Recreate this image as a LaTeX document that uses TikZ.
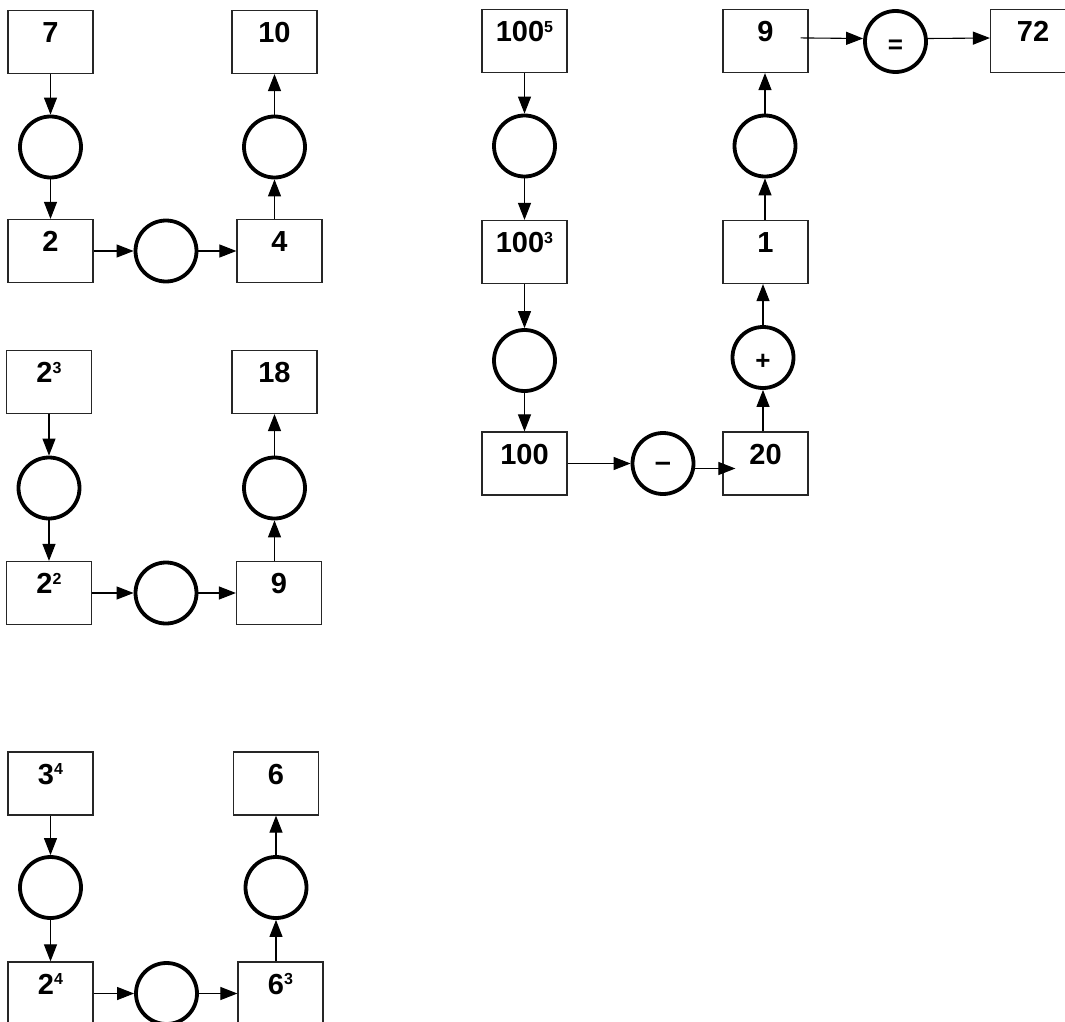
\documentclass[tikz,border=0pt]{standalone}
\usepackage{fontspec}
\setmainfont{Liberation Sans}
\usetikzlibrary{arrows.meta,calc}

% number with a small raised exponent
\newcommand{\pw}[2]{#1\raisebox{9.3pt}{\fontsize{16}{16}\selectfont #2}}

\begin{document}
\begin{tikzpicture}[x=1pt,y=-1pt,
  numbox/.style={draw=black!85, line width=1.2pt, rectangle,
    minimum width=85pt, minimum height=63pt, inner sep=0pt,
    text height=32pt, text depth=31pt,
    font=\fontsize{29}{30}\selectfont\bfseries},
  opcirc/.style={draw, line width=3.8pt, circle, minimum size=61pt,
    inner sep=0pt, text height=24pt, text depth=0pt,
    font=\fontsize{26}{26}\selectfont\bfseries},
  dashop/.style={font=\fontsize{29}{30}\selectfont\bfseries,
    text height=15.6pt, text depth=0pt},
  flow/.style={-{Triangle[length=17pt,width=13pt]}, line width=1.1pt},
]
\fill[white] (0,0) rectangle (1065,1022);
\useasboundingbox (0,0) rectangle (1065,1022);
\clip (0,0) rectangle (1065,1022);

% chain 1
\node[numbox] (a1) at (50.5,42) {7};
\node[opcirc] (a2) at (50.5,147) {};
\node[numbox] (a3) at (50.5,251) {2};
\node[opcirc] (a4) at (166,251) {};
\node[numbox] (a5) at (279.5,251) {4};
\node[opcirc] (a6) at (274.5,147) {};
\node[numbox] (a7) at (274.5,42) {10};
\draw[flow] (a1) -- (a2);
\draw[flow] (a2) -- (a3);
\draw[flow] (a3) -- (a4);
\draw[flow] (a4) -- (a5);
\draw[flow] (a5.north -| a6) -- (a6);
\draw[flow] (a6) -- (a7);

% chain 2
\node[numbox] (b1) at (49,382) {\pw{2}{3}};
\node[opcirc] (b2) at (49,488) {};
\node[numbox] (b3) at (49,593) {\pw{2}{2}};
\node[opcirc] (b4) at (166,593) {};
\node[numbox] (b5) at (279,593) {9};
\node[opcirc] (b6) at (274.5,488) {};
\node[numbox] (b7) at (274.5,382) {18};
\draw[flow] (b1) -- (b2);
\draw[flow] (b2) -- (b3);
\draw[flow] (b3) -- (b4);
\draw[flow] (b4) -- (b5);
\draw[flow] (b5.north -| b6) -- (b6);
\draw[flow] (b6) -- (b7);

% chain 3
\node[numbox] (c1) at (50.5,783.5) {\pw{3}{4}};
\node[opcirc] (c2) at (50.5,887.5) {};
\node[numbox] (c3) at (50.5,993.5) {\pw{2}{4}};
\node[opcirc] (c4) at (166.5,993.5) {};
\node[numbox] (c5) at (280.5,993.5) {\pw{6}{3}};
\node[opcirc] (c6) at (276,887.5) {};
\node[numbox] (c7) at (276,783.5) {6};
\draw[flow] (c1) -- (c2);
\draw[flow] (c2) -- (c3);
\draw[flow] (c3) -- (c4);
\draw[flow] (c4) -- (c5);
\draw[flow] (c5.north -| c6) -- (c6);
\draw[flow] (c6) -- (c7);

% chain 4
\node[numbox] (d1) at (524.5,41) {\pw{100}{5}};
\node[opcirc] (d2) at (524.5,146) {};
\node[numbox] (d3) at (524.5,252) {\pw{100}{3}};
\node[opcirc] (d4) at (524.5,360.5) {};
\node[numbox] (d5) at (524.5,463.5) {100};
\node[opcirc,dashop] (d6) at (663,463.5) {–};
\node[numbox] (d7) at (765.5,463.5) {20};
\node[opcirc] (d8) at (763,357.5) {+};
\node[numbox] (d9) at (765.5,252) {1};
\node[opcirc] (d10) at (765,146) {};
\node[numbox] (d11) at (765.5,41) {9};
\node[opcirc] (d12) at (895.5,41.5) {=};
\node[numbox] (d13) at (1033,41) {72};
\draw[flow] (d1) -- (d2);
\draw[flow] (d2) -- (d3);
\draw[flow] (d3) -- (d4);
\draw[flow] (d4) -- (d5);
\draw[flow] (d5) -- (d6);
\draw[flow, shorten >=-13pt] ([yshift=-5pt]d6.east) -- ([yshift=-5pt]d7.west);
\draw[flow] (d7.north -| d8) -- (d8);
\draw[flow] (d8) -- (d9.south -| d8);
\draw[flow] (d9.north -| d10) -- (d10);
\draw[flow] (d10) -- (d11.south -| d10);
\draw[flow, shorten <=-8pt] ([yshift=3pt]d11.east) -- ([yshift=3pt]d12.west);
\draw[flow] ([yshift=3pt]d12.east) -- ([yshift=3pt]d13.west);
\end{tikzpicture}
\end{document}
